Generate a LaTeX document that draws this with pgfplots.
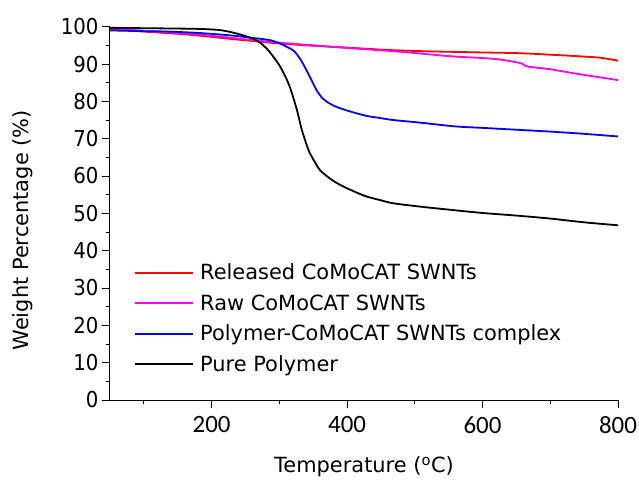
\documentclass[border=0pt]{standalone}
\usepackage{pgfplots}
\pgfplotsset{compat=1.18}
\usepackage{fontspec}
\setmainfont{DejaVu Sans}
\newfontfamily\condensed{DejaVu Sans Condensed}
\newfontfamily\carlito{Carlito}
\definecolor{cred}{RGB}{255,0,0}
\definecolor{cmag}{RGB}{255,0,255}
\definecolor{cblue}{RGB}{0,0,255}

\pgfplotstableread{
T W
50 99.4
100 98.7
150 98.1
183 97.6
230 96.7
271 96.0
300 95.5
350 94.9
400 94.4
463 93.75
520 93.4
600 93.1
655 92.9
700 92.5
740 92.1
773 91.7
800 90.9
}\released

\pgfplotstableread{
T W
50 99.6
100 98.9
150 98.3
183 97.9
250 96.6
300 95.7
330 95.3
400 94.3
478 93.3
552 92.1
600 91.6
626 91.2
655 90.3
661 89.8
668 89.3
700 88.6
729 87.7
760 86.8
800 85.7
}\raw

\pgfplotstableread{
T W
50 99.0
100 98.8
134 98.7
183 98.3
232 97.6
260 97.0
286 96.4
301 95.5
311 94.6
321 93.6
330 91.6
340 88.4
348 85.5
355 83.0
362 81.2
370 79.9
382 78.7
394 77.9
410 77.0
429 76.1
450 75.5
468 75.0
508 74.3
559 73.3
600 72.9
650 72.4
700 71.9
750 71.3
800 70.6
}\complex

\pgfplotstableread{
T W
50 99.7
100 99.6
150 99.5
183 99.4
212 99.1
232 98.4
250 97.5
262 96.7
271 95.8
282 94.0
291 92.0
301 89.4
309 86.6
316 83.6
326 77.7
333 72.5
343 67.0
350 64.5
360 61.6
375 59.3
390 57.6
410 55.9
429 54.5
450 53.5
468 52.7
508 51.8
550 51.0
600 50.1
650 49.4
700 48.6
750 47.6
800 46.8
}\polymer

\begin{document}
\begin{tikzpicture}
\useasboundingbox (-110bp,-84bp) rectangle (529bp,400bp);
\begin{axis}[
  at={(0,0)}, anchor=south west,
  scale only axis, width=508bp, height=373.3bp,
  xmin=50, xmax=800, ymin=0, ymax=100,
  axis x line*=bottom, axis y line*=left,
  axis line style={line width=1bp, black},
  xtick={200,400,600,800}, minor xtick={100,300,500,700},
  ytick={0,10,...,100}, minor ytick={5,15,...,95},
  tick align=outside,
  major tick length=8bp, minor tick length=4bp,
  tick style={line width=1bp, black},
  /pgf/number format/assume math mode=true,
  yticklabel style={font=\condensed\fontsize{22}{26}\selectfont},
  xticklabel style={font=\carlito\fontsize{25}{28}\selectfont, yshift=-5bp},
  xlabel={Temperature (\textsuperscript{o}C)},
  ylabel={Weight Percentage (\%)},
  label style={font=\fontsize{21}{25}\selectfont},
  xlabel style={at={(axis description cs:0.5,0)}, anchor=center, yshift=-67bp},
  ylabel style={at={(axis description cs:-0.1713,0.4545)}, anchor=center, rotate=0},
  legend cell align=left,
  legend image code/.code={\fill[#1, draw=none] (0bp,-0.9bp) rectangle (58bp,0.9bp);},
  legend style={draw=none, fill=none, at={(axis cs:86.9,36.5)}, anchor=north west,
    font=\fontsize{21}{25}\selectfont, row sep=13.3bp, column sep=7bp, inner sep=0pt,
    nodes={inner sep=0pt}},
]
\addplot[color=cred, line width=1.8bp, smooth, tension=0.5] table {\released};
\addlegendentry{Released CoMoCAT SWNTs}
\addplot[color=cmag, line width=1.8bp, smooth, tension=0.5] table {\raw};
\addlegendentry{Raw CoMoCAT SWNTs}
\addplot[color=cblue, line width=1.8bp, smooth, tension=0.5] table {\complex};
\addlegendentry{Polymer-CoMoCAT SWNTs complex}
\addplot[color=black, line width=1.8bp, smooth, tension=0.5] table {\polymer};
\addlegendentry{Pure Polymer}
\end{axis}
\end{tikzpicture}
\end{document}
